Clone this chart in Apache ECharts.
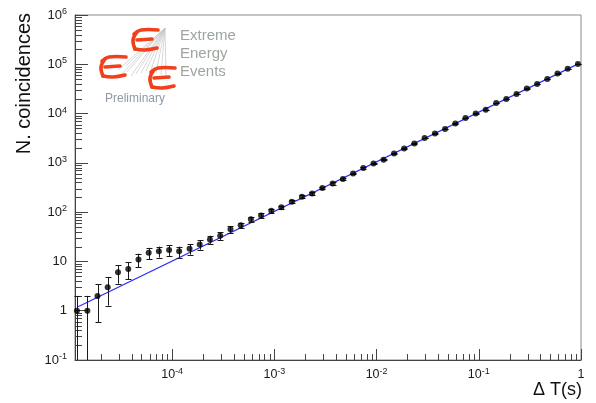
<!DOCTYPE html>
<html>
<head>
<meta charset="utf-8">
<script src="https://cdn.jsdelivr.net/npm/echarts@6/dist/echarts.min.js"></script>
<style>
html, body { margin: 0; padding: 0; background: #fff; }
#chart { width: 596px; height: 403px; }
</style>
</head>
<body>
<div id="chart"></div>
<script>
// time windows (s), log-spaced bins
var deltaT = [
  1.17e-5, 1.48e-5, 1.86e-5, 2.34e-5, 2.95e-5, 3.72e-5, 4.68e-5, 5.89e-5, 7.41e-5, 9.33e-5,
  1.17e-4, 1.48e-4, 1.86e-4, 2.34e-4, 2.95e-4, 3.72e-4, 4.68e-4, 5.89e-4, 7.41e-4, 9.33e-4,
  1.17e-3, 1.48e-3, 1.86e-3, 2.34e-3, 2.95e-3, 3.72e-3, 4.68e-3, 5.89e-3, 7.41e-3, 9.33e-3,
  1.17e-2, 1.48e-2, 1.86e-2, 2.34e-2, 2.95e-2, 3.72e-2, 4.68e-2, 5.89e-2, 7.41e-2, 9.33e-2,
  0.117, 0.148, 0.186, 0.234, 0.295, 0.372, 0.468, 0.589, 0.741, 0.933
];
// number of coincidences
var counts = [
  1, 1, 2, 3, 6, 7, 11, 15, 16, 17,
  16, 18, 22, 28, 33, 45, 54, 72, 85, 107,
  125, 163, 206, 240, 308, 383, 470, 611, 785, 973,
  1157, 1553, 1963, 2479, 3192, 3955, 4857, 6310, 8110, 10070,
  11970, 16360, 19720, 24900, 32360, 39720, 50200, 65200, 81300, 101200
];
// statistical errors
var countErr = [
  1, 1, 1.41, 1.73, 2.45, 2.65, 3.32, 3.87, 4, 4.12,
  4, 4.24, 4.69, 5.29, 5.74, 6.71, 7.35, 8.49, 9.22, 10.3,
  11.2, 12.8, 14.4, 15.5, 17.5, 19.6, 21.7, 24.7, 28, 31.2,
  34, 39.4, 44.3, 49.8, 56.5, 62.9, 69.7, 79.4, 90.1, 100,
  109, 128, 140, 158, 180, 199, 224, 255, 285, 318
];
// fit line end points
var fitT = [1.2e-5, 0.95];
var fitN = [1.2, 1.03e5];

var xMin = 1.12e-5, xMax = 1;
var yMin = 0.1, yMax = 1e6;
var minorMult = [2, 3, 4, 5, 6, 7, 8, 9];

var xMinor = [], yMinor = [];
for (var k = -5; k <= -1; k++) {
  minorMult.forEach(function (m) {
    var v = m * Math.pow(10, k);
    if (v > xMin && v < xMax) xMinor.push([v, yMin]);
  });
}
for (var k = -1; k <= 5; k++) {
  minorMult.forEach(function (m) {
    yMinor.push([xMin, m * Math.pow(10, k)]);
  });
}

var font = '"Liberation Sans", Arial, Helvetica, sans-serif';

function powLabel(v) {
  var k = Math.round(Math.log10(v));
  if (k === 0) return '{b|1}';
  if (k === 1) return '{b|10}';
  return '{b|10}{s|' + k + '}';
}

var chart = echarts.init(document.getElementById('chart'), null, { renderer: 'canvas' });

var pts = deltaT.map(function (t, i) { return [t, counts[i]]; });
var errData = deltaT.map(function (t, i) { return [t, counts[i], countErr[i]]; });
var fitData = fitT.map(function (t, i) { return [t, fitN[i]]; });

// logo strokes for the red "E" letters
var eStrokes = [
  [[2, 5], [9, 1], [26, 1]],
  [[5, 3], [1, 11], [3, 20]],
  [[5, 11], [20, 10]],
  [[3, 20], [13, 21], [25, 19]]
];
var eOrigins = [[132, 29], [100, 56], [149, 67]];
var rayEnds = [[118, 70], [122, 74], [127, 72], [131, 76], [136, 74], [141, 73], [146, 71],
  [151, 70], [156, 73], [161, 75], [166, 79], [126, 66]];

var logo = [];
rayEnds.forEach(function (p) {
  logo.push({ type: 'line', shape: { x1: 165, y1: 28, x2: p[0], y2: p[1] },
    style: { stroke: '#c6c6c6', lineWidth: 0.7 }, silent: true });
});
eOrigins.forEach(function (o) {
  eStrokes.forEach(function (s) {
    logo.push({ type: 'polyline', x: o[0], y: o[1], shape: { points: s, smooth: 0.4 },
      style: { stroke: '#f0401c', lineWidth: 3.6, fill: null, lineCap: 'round', lineJoin: 'round' }, silent: true });
  });
});
['Extreme', 'Energy', 'Events'].forEach(function (w, i) {
  logo.push({ type: 'text', x: 180, y: 36 + i * 18,
    style: { text: w, font: '15px ' + font, fill: '#9da59d', verticalAlign: 'middle', textVerticalAlign: 'middle' } });
});
logo.push({ type: 'text', x: 105, y: 99,
  style: { text: 'Preliminary', font: '12px ' + font, fill: '#8d9aa5', verticalAlign: 'middle', textVerticalAlign: 'middle' } });

// axis titles
logo.push({ type: 'text', x: 24, y: 13, rotation: Math.PI / 2,
  style: { text: 'N. coincidences', font: '20px ' + font, fill: '#111', align: 'right', textAlign: 'right',
    verticalAlign: 'middle', textVerticalAlign: 'middle' } });
logo.push({ type: 'text', x: 582, y: 390,
  style: { text: '\u0394 T(s)', font: '18px ' + font, fill: '#111', align: 'right', textAlign: 'right',
    verticalAlign: 'middle', textVerticalAlign: 'middle' } });

option = {
  backgroundColor: '#fff',
  animation: false,
  grid: { left: 75, right: 15, top: 15, bottom: 43, show: true, borderColor: '#8a8a8a', borderWidth: 1 },
  xAxis: {
    type: 'log', min: xMin, max: xMax, splitNumber: 5,
    axisLine: { show: true, lineStyle: { color: '#444', width: 1 } },
    axisTick: { show: true, inside: true, length: 11, lineStyle: { color: '#444' } },
    splitLine: { show: false },
    axisLabel: {
      showMinLabel: false, margin: 7, color: '#1a1a1a', fontFamily: font,
      formatter: powLabel,
      rich: {
        b: { fontSize: 12.5, lineHeight: 15, fontFamily: font, color: '#1a1a1a' },
        s: { fontSize: 9, lineHeight: 8, verticalAlign: 'top', fontFamily: font, color: '#1a1a1a' }
      }
    }
  },
  yAxis: {
    type: 'log', min: yMin, max: yMax, splitNumber: 7,
    axisLine: { show: true, lineStyle: { color: '#444', width: 1 } },
    axisTick: { show: true, inside: true, length: 13, lineStyle: { color: '#444' } },
    splitLine: { show: false },
    axisLabel: {
      margin: 8, color: '#1a1a1a', fontFamily: font,
      formatter: powLabel,
      rich: {
        b: { fontSize: 13, lineHeight: 16, fontFamily: font, color: '#1a1a1a' },
        s: { fontSize: 9, lineHeight: 8, verticalAlign: 'top', fontFamily: font, color: '#1a1a1a' }
      }
    }
  },
  graphic: logo,
  series: [
    {
      // x minor ticks
      type: 'custom', silent: true, clip: false, z: 1,
      data: xMinor,
      renderItem: function (params, api) {
        var p = api.coord([api.value(0), yMin]);
        var x = Math.round(p[0]) + 0.5;
        return { type: 'line', shape: { x1: x, y1: p[1], x2: x, y2: p[1] - 6 },
          style: { stroke: '#444', lineWidth: 1 } };
      }
    },
    {
      // y minor ticks
      type: 'custom', silent: true, clip: false, z: 1,
      data: yMinor,
      renderItem: function (params, api) {
        var p = api.coord([xMin, api.value(1)]);
        var y = Math.round(p[1]) + 0.5;
        return { type: 'line', shape: { x1: p[0], y1: y, x2: p[0] + 7, y2: y },
          style: { stroke: '#444', lineWidth: 1 } };
      }
    },
    {
      name: 'fit', type: 'line', data: fitData, showSymbol: false, z: 2,
      lineStyle: { color: '#2b2bff', width: 1.2 }
    },
    {
      // error bars
      type: 'custom', silent: true, z: 3,
      data: errData,
      renderItem: function (params, api) {
        var t = api.value(0), n = api.value(1), e = api.value(2);
        var lo = n - e, hi = n + e;
        var clipped = lo <= yMin;
        var pHi = api.coord([t, hi]);
        var pLo = api.coord([t, clipped ? yMin : lo]);
        var x = Math.round(pHi[0]) + 0.5;
        var st = { stroke: '#1a1a1a', lineWidth: 1 };
        var kids = [
          { type: 'line', shape: { x1: x, y1: pHi[1], x2: x, y2: pLo[1] }, style: st },
          { type: 'line', shape: { x1: x - 3, y1: Math.round(pHi[1]) + 0.5, x2: x + 3, y2: Math.round(pHi[1]) + 0.5 }, style: st }
        ];
        if (!clipped) {
          kids.push({ type: 'line', shape: { x1: x - 3, y1: Math.round(pLo[1]) + 0.5, x2: x + 3, y2: Math.round(pLo[1]) + 0.5 }, style: st });
        }
        return { type: 'group', children: kids };
      }
    },
    {
      name: 'data', type: 'scatter', data: pts, z: 4,
      symbol: 'circle', symbolSize: 6,
      itemStyle: { color: '#000' }
    }
  ]
};
chart.setOption(option);
</script>
</body>
</html>
